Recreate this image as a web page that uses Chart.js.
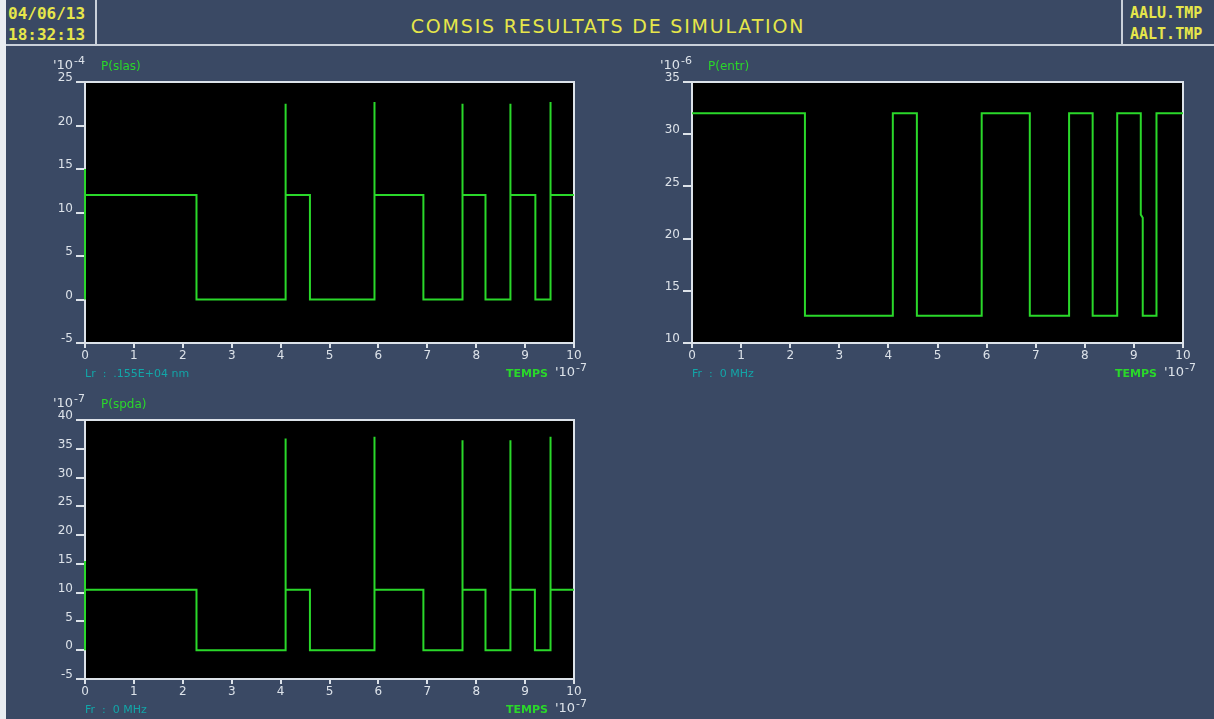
<!DOCTYPE html>
<html>
<head>
<meta charset="utf-8">
<script src="https://cdn.jsdelivr.net/npm/chart.js@4"></script>
<style>
  html, body { margin: 0; padding: 0; }
  body {
    width: 1214px; height: 719px; position: relative; overflow: hidden;
    background: #3a4964; font-family: "DejaVu Sans", sans-serif;
  }
  .strip { position: absolute; left: 0; top: 0; width: 6px; height: 719px; background: #e9edf1; }
  .hline { position: absolute; left: 6px; top: 44px; width: 1208px; height: 2px; background: #c9d0da; }
  .vline { position: absolute; top: 0; width: 2px; height: 45px; background: #c9d0da; }
  .hdr { position: absolute; color: #e6e64a; font-family: "DejaVu Sans Mono", monospace; font-weight: bold; }
  .stamp { font-size: 16px; line-height: 21px; }
  .title { left: 200px; width: 816px; top: 15px; text-align: center; font-family: "DejaVu Sans", sans-serif;
           font-weight: normal; font-size: 19px; letter-spacing: 1.8px; }
  canvas { position: absolute; }
</style>
</head>
<body>
<div class="strip"></div>
<div class="vline" style="left:95px"></div>
<div class="vline" style="left:1121px"></div>
<div class="hline"></div>
<div class="hdr stamp" style="left:8px; top:3px">04/06/13<br>18:32:13</div>
<div class="hdr title">COMSIS RESULTATS DE SIMULATION</div>
<div class="hdr stamp" style="left:1130px; top:3px; font-size:15px">AALU.TMP<br>AALT.TMP</div>

<canvas id="slas" style="left:0px; top:50px" width="610" height="335"></canvas>
<canvas id="entr" style="left:610px; top:50px" width="604" height="335"></canvas>
<canvas id="spda" style="left:0px; top:385px" width="610" height="334"></canvas>

<script>
// time axis, units of 1e-7 s
const timeTicks = ["0", "1", "2", "3", "4", "5", "6", "7", "8", "9", "10"];

// P(slas), units of 1e-4
const slasT = [0, 0, 0, 2.28, 2.28, 4.09, 4.09, 4.10, 4.11, 4.11, 4.60, 4.60, 5.92, 5.92, 5.92, 6.92, 6.92,
  7.72, 7.72, 7.72, 8.19, 8.19, 8.70, 8.70, 8.70, 9.21, 9.21, 9.52, 9.52, 9.52, 10];
const slasP = [0, 15, 12, 12, 0, 0, 11, 9.5, 22.5, 12, 12, 0, 0, 22.7, 12, 12, 0,
  0, 22.5, 12, 12, 0, 0, 22.5, 12, 12, 0, 0, 22.7, 12, 12];

// P(entr), units of 1e-6
const entrT = [0, 2.30, 2.30, 4.09, 4.09, 4.58, 4.58, 5.90, 5.90, 6.88, 6.88, 7.68, 7.68,
  8.16, 8.16, 8.66, 8.66, 9.14, 9.14, 9.18, 9.18, 9.46, 9.46, 10];
const entrP = [32, 32, 12.6, 12.6, 32, 32, 12.6, 12.6, 32, 32, 12.6, 12.6, 32,
  32, 12.6, 12.6, 32, 32, 22.3, 22.0, 12.6, 12.6, 32, 32];

// P(spda), units of 1e-7
const spdaT = [0, 0, 0, 2.28, 2.28, 4.09, 4.09, 4.10, 4.11, 4.11, 4.60, 4.60, 5.92, 5.92, 5.92, 6.92, 6.92,
  7.72, 7.72, 7.72, 8.19, 8.19, 8.70, 8.70, 8.70, 9.20, 9.20, 9.52, 9.52, 9.52, 10];
const spdaP = [0, 15.5, 10.5, 10.5, 0, 0, 18, 6, 36.8, 10.5, 10.5, 0, 0, 37.1, 10.5, 10.5, 0,
  0, 36.5, 10.5, 10.5, 0, 0, 36.5, 10.5, 10.5, 0, 0, 37.1, 10.5, 10.5];

const AXIS = "#dce2e9";
const TRACE = "#2ad82a";

function toPoints(ts, vs) {
  return ts.map((t, i) => ({ x: t, y: vs[i] }));
}

function supText(ctx, x, y, base, exp) {
  ctx.font = "13px 'DejaVu Sans'";
  ctx.fillStyle = AXIS;
  ctx.textAlign = "left";
  ctx.textBaseline = "middle";
  ctx.fillText("'" + base, x, y);
  const w = ctx.measureText("'" + base).width;
  ctx.font = "11px 'DejaVu Sans'";
  ctx.fillText(exp, x + w + 1, y - 5);
}

// black plot area, frame and the scope-style captions
const scopeFrame = {
  id: "scopeFrame",
  beforeDraw(chart) {
    const a = chart.chartArea;
    const ctx = chart.ctx;
    ctx.save();
    ctx.fillStyle = "#000";
    ctx.fillRect(a.left, a.top, a.right - a.left, a.bottom - a.top);
    ctx.restore();
  },
  beforeDatasetsDraw(chart) {
    // frame goes under the trace so the edge at t=0 stays visible
    const a = chart.chartArea;
    const ctx = chart.ctx;
    ctx.save();
    ctx.strokeStyle = AXIS;
    ctx.lineWidth = 2;
    ctx.strokeRect(a.left, a.top, a.right - a.left, a.bottom - a.top);
    ctx.restore();
  },
  afterDraw(chart, args, opts) {
    const a = chart.chartArea;
    const ctx = chart.ctx;
    ctx.save();
    supText(ctx, a.left - 32, a.top - 16, "10", opts.exp);
    ctx.font = "12px 'DejaVu Sans'";
    ctx.fillStyle = TRACE;
    ctx.fillText(opts.name, a.left + 16, a.top - 15);

    ctx.font = "11px 'DejaVu Sans'";
    ctx.fillStyle = "#12a6a8";
    ctx.fillText(opts.note, a.left, a.bottom + 31);

    ctx.font = "bold 11px 'DejaVu Sans'";
    ctx.fillStyle = TRACE;
    ctx.textAlign = "center";
    ctx.fillText("TEMPS", a.right - 47, a.bottom + 31);
    supText(ctx, a.right - 19, a.bottom + 30, "10", "-7");
    ctx.restore();
  }
};

function makeChart(id, ts, vs, yMin, yMax, cap, box) {
  const ctx = document.getElementById(id).getContext("2d");
  return new Chart(ctx, {
    type: "line",
    data: {
      datasets: [{
        data: toPoints(ts, vs),
        borderColor: TRACE,
        borderWidth: 2,
        pointRadius: 0,
        tension: 0,
        clip: 3,
      }],
    },
    options: {
      responsive: false,
      animation: false,
      layout: { padding: { top: box.top, right: box.right, left: 0, bottom: 0 } },
      plugins: {
        legend: { display: false },
        tooltip: { enabled: false },
        scopeFrame: cap,
      },
      scales: {
        x: {
          type: "linear",
          min: 0,
          max: 10,
          afterFit: (s) => { s.height = box.xh; },
          afterBuildTicks: (s) => { s.ticks = timeTicks.map((t) => ({ value: Number(t) })); },
          ticks: {
            color: AXIS,
            font: { family: "DejaVu Sans", size: 12 },
            padding: 1,
            maxRotation: 0,
            callback: (v, i) => timeTicks[i],
          },
          grid: { drawOnChartArea: false, color: AXIS, tickLength: 5, lineWidth: 2 },
          border: { display: false },
        },
        y: {
          min: yMin,
          max: yMax,
          afterFit: (s) => { s.width = box.yw; },
          ticks: {
            stepSize: 5,
            color: AXIS,
            font: { family: "DejaVu Sans", size: 12 },
            padding: 3,
            labelOffset: -4,
          },
          grid: { drawOnChartArea: false, color: AXIS, tickLength: 9, lineWidth: 2 },
          border: { display: false },
        },
      },
    },
    plugins: [scopeFrame],
  });
}

makeChart("slas", slasT, slasP, -5, 25,
  { exp: "-4", name: "P(slas)", note: "Lr  :  .155E+04 nm" },
  { top: 32, right: 36, yw: 85, xh: 42 });
makeChart("entr", entrT, entrP, 10, 35,
  { exp: "-6", name: "P(entr)", note: "Fr  :  0 MHz" },
  { top: 32, right: 31, yw: 82, xh: 42 });
makeChart("spda", spdaT, spdaP, -5, 40,
  { exp: "-7", name: "P(spda)", note: "Fr  :  0 MHz" },
  { top: 35, right: 36, yw: 85, xh: 40 });
</script>
</body>
</html>
